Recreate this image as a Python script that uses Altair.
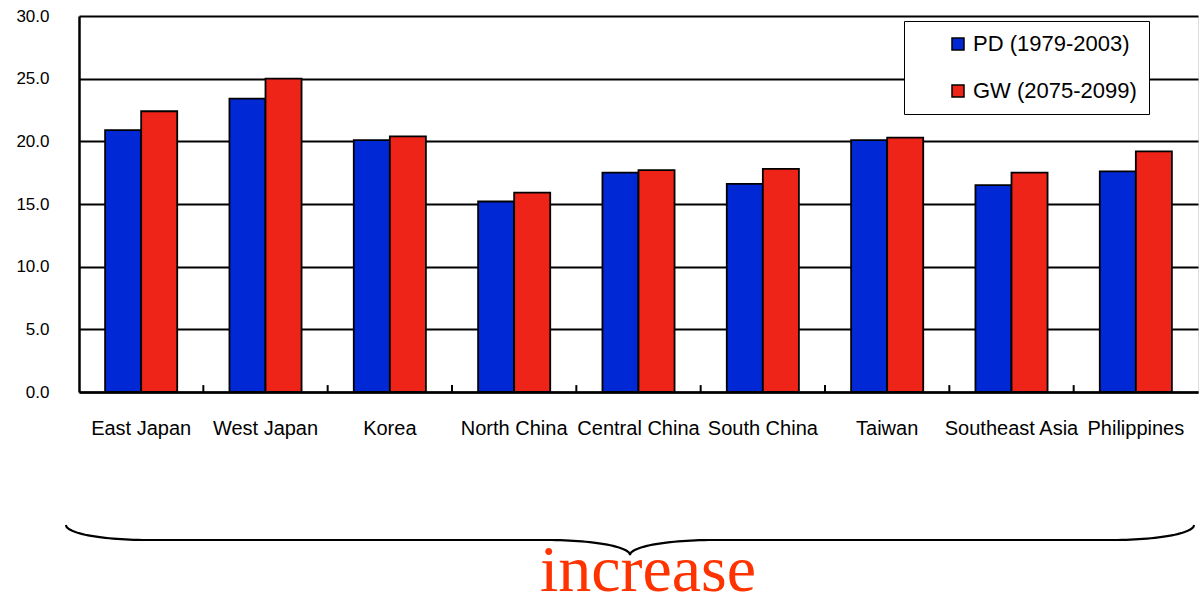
import altair as alt
import numpy as np
import pandas as pd

regions = ["East Japan", "West Japan", "Korea", "North China", "Central China",
           "South China", "Taiwan", "Southeast Asia", "Philippines"]
pd_vals = [20.9, 23.4, 20.1, 15.2, 17.5, 16.6, 20.1, 16.5, 17.6]
gw_vals = [22.4, 25.0, 20.4, 15.9, 17.7, 17.8, 20.3, 17.5, 19.2]
series = ["PD (1979-2003)", "GW (2075-2099)"]
colors = ["#0028D4", "#EE2419"]
y_ticks = [0, 5, 10, 15, 20, 25, 30]
note_text = "increase"

W, H = 1119, 376
UNIT = H / 30.0  # px per data unit

rows = []
for r, a, b in zip(regions, pd_vals, gw_vals):
    rows.append({"region": r, "series": series[0], "value": a})
    rows.append({"region": r, "series": series[1], "value": b})
df = pd.DataFrame(rows)

# decorative brace below the axis (x in px from plot left, y converted to data units)
def to_y(py):
    return (392 - py) / UNIT

left_x, center_x, right_x = -13.0, 551.0, 1115.0
tip_y, bar_y, point_y = 525.0, 540.0, 555.0
t = np.linspace(0, np.pi / 2, 30)
seg1_x = left_x + 81 * (1 - np.cos(t))
seg1_y = tip_y + (bar_y - tip_y) * np.sin(t)
seg2_x = (center_x - 83) + 83 * np.sin(t)
seg2_y = bar_y + (point_y - bar_y) * (1 - np.cos(t))
half_x = np.concatenate([seg1_x, seg2_x])
half_y = np.concatenate([seg1_y, seg2_y])
full_x = np.concatenate([half_x, (2 * center_x - half_x)[::-1]])
full_y = np.concatenate([half_y, half_y[::-1]])
brace = pd.DataFrame({"bx": full_x, "by": [to_y(v) for v in full_y],
                      "order": np.arange(len(full_x))})

note = pd.DataFrame({"bx": [569.0], "by": [to_y(591)], "label": [note_text]})
tick_df = pd.DataFrame({"region": regions[1:], "y0": [0.0] * 8, "y1": [0.55] * 8})

yscale = alt.Scale(domain=[0, 30], nice=False, zero=True)

bars = alt.Chart(df).mark_bar(stroke="black", strokeWidth=1.8).encode(
    x=alt.X("region:N", sort=regions, title=None,
            scale=alt.Scale(paddingInner=0.42, paddingOuter=0.21),
            axis=alt.Axis(labelAngle=0, labelFontSize=20, labelFont="Liberation Sans",
                          labelColor="black", ticks=False, labelPadding=26,
                          domainColor="black", domainWidth=2.5, labelLimit=200)),
    xOffset=alt.XOffset("series:N", sort=series,
                        scale=alt.Scale(domain=series, paddingInner=0, paddingOuter=0)),
    y=alt.Y("value:Q", scale=yscale, title=None,
            axis=alt.Axis(values=y_ticks, format=".1f", labelFontSize=17,
                          labelFont="Liberation Sans", labelColor="black",
                          ticks=False, tickSize=0, labelPadding=30,
                          grid=True, gridColor="black", gridWidth=2, gridOpacity=1,
                          domainColor="black", domainWidth=2.5)),
    color=alt.Color("series:N", sort=series,
                    scale=alt.Scale(domain=series, range=colors),
                    legend=alt.Legend(title=None, orient="none", legendX=825, legendY=5,
                                      fillColor="white", strokeColor="black",
                                      padding=12, rowPadding=25,
                                      symbolType="square", symbolSize=144,
                                      symbolStrokeColor="black", symbolStrokeWidth=1.5,
                                      symbolOffset=31, labelOffset=4, labelLimit=400,
                                      labelFontSize=22, labelFont="Liberation Sans",
                                      labelColor="black",
                                      labelExpr="datum.label + '\u00a0\u00a0\u00a0\u00a0\u00a0\u00a0\u00a0'")),
)

ticks = alt.Chart(tick_df).mark_rule(color="black", strokeWidth=2).encode(
    x=alt.X("region:N", bandPosition=0, axis=None,
            scale=alt.Scale(domain=regions, paddingInner=0, paddingOuter=0)),
    y=alt.Y("y0:Q", scale=yscale),
    y2="y1:Q",
)

brace_line = alt.Chart(brace).mark_line(color="black", strokeWidth=2.2, clip=False).encode(
    x=alt.X("bx:Q", axis=None, scale=alt.Scale(domain=[0, W], nice=False, zero=False)),
    y=alt.Y("by:Q", scale=yscale),
    order="order:Q",
)

brace_text = alt.Chart(note).mark_text(
    font="Liberation Serif", fontSize=66, color="#FF3300",
    align="center", baseline="alphabetic", clip=False
).encode(
    x=alt.X("bx:Q", axis=None, scale=alt.Scale(domain=[0, W], nice=False, zero=False)),
    y=alt.Y("by:Q", scale=yscale),
    text="label:N",
)

chart = alt.layer(bars, ticks, brace_line, brace_text).resolve_scale(
    x="independent"
).properties(
    width=W, height=H,
    autosize=alt.AutoSizeParams(type="none"),
    padding={"left": 79, "top": 16, "right": 4, "bottom": 206},
).configure_view(
    stroke="black", strokeWidth=2
).configure(background="white")

chart.save("out.html", embed_options={"renderer": "svg", "actions": False})
